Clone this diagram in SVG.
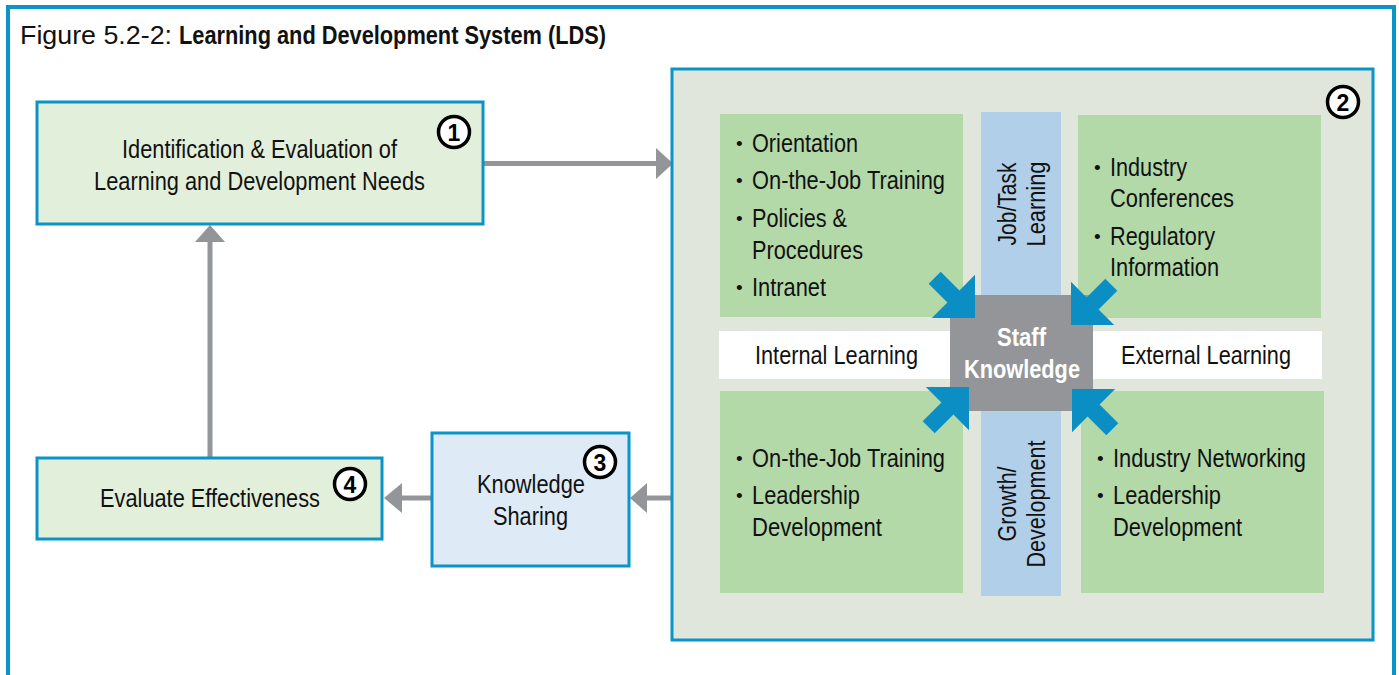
<svg xmlns="http://www.w3.org/2000/svg" width="1399" height="675" viewBox="0 0 1399 675">
<style>
.t{font-family:"Liberation Sans",Arial,sans-serif;font-size:25px;fill:#111;}
.ti{font-size:25px;}
.bu{font-family:"Liberation Sans",Arial,sans-serif;font-size:19px;fill:#111;}
.b{font-weight:bold;}
.c{text-anchor:middle;}
.box{fill:#e2efda;stroke:#0a94c8;stroke-width:3;}
.q{fill:#b3d9a9;}
.vb{fill:#b1cfe9;}
.wb{fill:#ffffff;}
.num{fill:#ffffff;stroke:#000;stroke-width:3.5;}
.numt{font-family:"Liberation Sans",Arial,sans-serif;font-size:23px;font-weight:bold;fill:#000;text-anchor:middle;}
.conn{stroke:#939598;stroke-width:5;fill:none;}
.head{fill:#939598;}
.barrow{fill:#0b8ec4;}
</style>
<defs>
<path id="bluearrow" d="M0,0 L-30.5,-30.5 L-30.5,-8.5 L-57,-8.5 L-57,8.5 L-30.5,8.5 L-30.5,30.5 Z"/>
</defs>
<rect x="8" y="7" width="1386" height="700" fill="#ffffff" stroke="#0a94c8" stroke-width="4"/>
<text class="t" x="20" y="44" textLength="152" lengthAdjust="spacingAndGlyphs">Figure 5.2-2:</text>
<text class="t b" x="179" y="44" textLength="427" lengthAdjust="spacingAndGlyphs">Learning and Development System (LDS)</text>

<g id="connectors">
<line class="conn" x1="483" y1="163.5" x2="658" y2="163.5"/>
<polygon class="head" points="656,148 673,163.5 656,179"/>
<line class="conn" x1="210" y1="458" x2="210" y2="240"/>
<polygon class="head" points="195,242 210,225 225,242"/>
<line class="conn" x1="432" y1="498" x2="400" y2="498"/>
<polygon class="head" points="402,483 384,498 402,513"/>
<line class="conn" x1="672" y1="498" x2="645" y2="498"/>
<polygon class="head" points="647,483 630,498 647,513"/>
</g>

<g id="node1">
<rect class="box" x="37" y="102" width="446" height="122"/>
<text class="t c" x="259.5" y="158" textLength="275" lengthAdjust="spacingAndGlyphs">Identification &amp; Evaluation of</text>
<text class="t c" x="259.5" y="190" textLength="331" lengthAdjust="spacingAndGlyphs">Learning and Development Needs</text>
<circle class="num" cx="454" cy="132" r="15.5"/>
<text class="numt" x="454" y="140.5">1</text>
</g>

<g id="node4">
<rect class="box" x="37" y="458" width="345" height="81"/>
<text class="t" x="100" y="507" textLength="220" lengthAdjust="spacingAndGlyphs">Evaluate Effectiveness</text>
<circle class="num" cx="350" cy="484" r="15.5"/>
<text class="numt" x="350" y="492.5">4</text>
</g>

<g id="node3">
<rect x="432" y="433" width="197" height="133" fill="#deebf6" stroke="#0a94c8" stroke-width="3"/>
<text class="t c" x="531" y="493" textLength="108" lengthAdjust="spacingAndGlyphs">Knowledge</text>
<text class="t c" x="530.5" y="525" textLength="75" lengthAdjust="spacingAndGlyphs">Sharing</text>
<circle class="num" cx="600" cy="462" r="15.5"/>
<text class="numt" x="600" y="470.5">3</text>
</g>

<g id="node2">
<rect x="672" y="69" width="701" height="571" fill="#e1e6dd" stroke="#0a94c8" stroke-width="3"/>
<circle class="num" cx="1343" cy="102" r="15.5"/>
<text class="numt" x="1343" y="110.5">2</text>

<rect class="vb" x="981" y="112" width="80" height="484"/>
<rect class="q" x="720" y="114" width="243" height="203"/>
<rect class="q" x="1078" y="115" width="243" height="203"/>
<rect class="q" x="720" y="391" width="243" height="202"/>
<rect class="q" x="1081" y="391" width="243" height="202"/>
<rect class="wb" x="719" y="331" width="231" height="48"/>
<rect class="wb" x="1092" y="331" width="230" height="48"/>

<g id="tl-list">
<text class="bu" x="736" y="150">•</text><text class="t" x="752" y="152" textLength="106" lengthAdjust="spacingAndGlyphs">Orientation</text>
<text class="bu" x="736" y="187">•</text><text class="t" x="752" y="189" textLength="193" lengthAdjust="spacingAndGlyphs">On-the-Job Training</text>
<text class="bu" x="736" y="225">•</text><text class="t" x="752" y="227" textLength="95" lengthAdjust="spacingAndGlyphs">Policies &amp;</text>
<text class="t" x="752" y="259" textLength="111" lengthAdjust="spacingAndGlyphs">Procedures</text>
<text class="bu" x="736" y="294">•</text><text class="t" x="752" y="296" textLength="74" lengthAdjust="spacingAndGlyphs">Intranet</text>
</g>
<g id="tr-list">
<text class="bu" x="1094" y="174">•</text><text class="t" x="1110" y="176" textLength="77" lengthAdjust="spacingAndGlyphs">Industry</text>
<text class="t" x="1110" y="207" textLength="124" lengthAdjust="spacingAndGlyphs">Conferences</text>
<text class="bu" x="1094" y="243">•</text><text class="t" x="1110" y="245" textLength="105" lengthAdjust="spacingAndGlyphs">Regulatory</text>
<text class="t" x="1110" y="276" textLength="109" lengthAdjust="spacingAndGlyphs">Information</text>
</g>
<g id="bl-list">
<text class="bu" x="736" y="465">•</text><text class="t" x="752" y="467" textLength="193" lengthAdjust="spacingAndGlyphs">On-the-Job Training</text>
<text class="bu" x="736" y="502">•</text><text class="t" x="752" y="504" textLength="108" lengthAdjust="spacingAndGlyphs">Leadership</text>
<text class="t" x="752" y="536" textLength="130" lengthAdjust="spacingAndGlyphs">Development</text>
</g>
<g id="br-list">
<text class="bu" x="1097" y="465">•</text><text class="t" x="1113" y="467" textLength="193" lengthAdjust="spacingAndGlyphs">Industry Networking</text>
<text class="bu" x="1097" y="502">•</text><text class="t" x="1113" y="504" textLength="108" lengthAdjust="spacingAndGlyphs">Leadership</text>
<text class="t" x="1113" y="536" textLength="129" lengthAdjust="spacingAndGlyphs">Development</text>
</g>

<text class="t c" x="836.5" y="364" textLength="163" lengthAdjust="spacingAndGlyphs">Internal Learning</text>
<text class="t c" x="1206" y="364" textLength="170" lengthAdjust="spacingAndGlyphs">External Learning</text>

<g transform="translate(1021,204) rotate(-90)">
<text class="t c" x="0" y="-5" textLength="83" lengthAdjust="spacingAndGlyphs">Job/Task</text>
<text class="t c" x="0" y="24" textLength="85" lengthAdjust="spacingAndGlyphs">Learning</text>
</g>
<g transform="translate(1021,504) rotate(-90)">
<text class="t c" x="0" y="-5" textLength="75" lengthAdjust="spacingAndGlyphs">Growth/</text>
<text class="t c" x="0" y="24" textLength="127" lengthAdjust="spacingAndGlyphs">Development</text>
</g>
</g>

<g id="staff-knowledge">
<rect x="950" y="295" width="143" height="116" fill="#939598"/>
<text class="t b c" x="1021.5" y="346" style="fill:#fff" textLength="49" lengthAdjust="spacingAndGlyphs">Staff</text>
<text class="t b c" x="1022" y="378" style="fill:#fff" textLength="116" lengthAdjust="spacingAndGlyphs">Knowledge</text>
</g>

<g id="blue-arrows">
<use href="#bluearrow" class="barrow" transform="translate(975,318) rotate(45)"/>
<use href="#bluearrow" class="barrow" transform="translate(1071,325) rotate(135)"/>
<use href="#bluearrow" class="barrow" transform="translate(969,387) rotate(-45)"/>
<use href="#bluearrow" class="barrow" transform="translate(1072,389) rotate(-135)"/>
</g>
</svg>
